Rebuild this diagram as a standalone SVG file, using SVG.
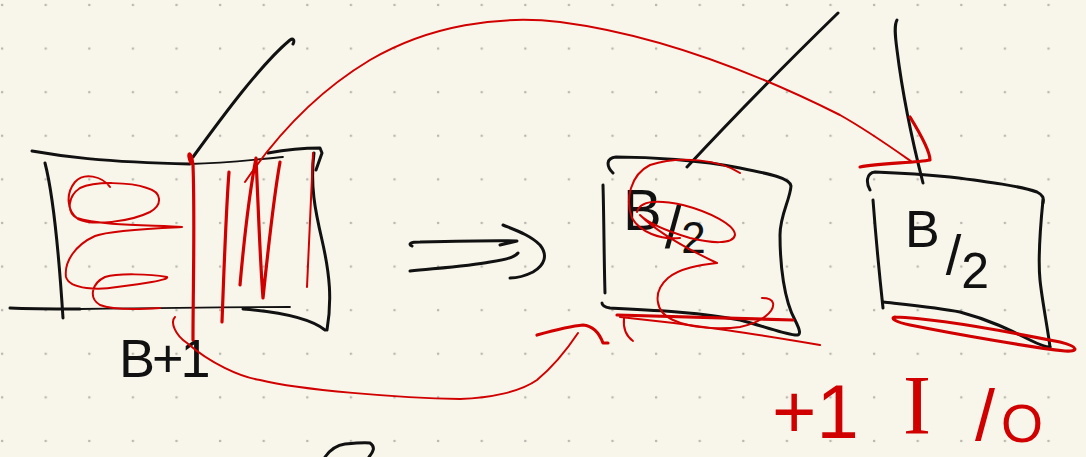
<svg xmlns="http://www.w3.org/2000/svg" width="1086" height="457" viewBox="0 0 1086 457">
<style>
.k{fill:none;stroke:#111;stroke-width:3;stroke-linecap:round;stroke-linejoin:round}
.kt{fill:none;stroke:#111;stroke-width:1.8;stroke-linecap:round}
.r{fill:none;stroke:#d10000;stroke-width:2;stroke-linecap:round;stroke-linejoin:round}
.rt{fill:none;stroke:#d10000;stroke-width:1.3;stroke-linecap:round;stroke-linejoin:round}
.rk{fill:none;stroke:#d10000;stroke-width:3.2;stroke-linecap:round;stroke-linejoin:round}
.tk{font-family:"Liberation Sans",Arial,sans-serif;fill:#111}
.tr{font-family:"Liberation Sans",Arial,sans-serif;fill:#d10000}
</style>
<defs>
<pattern id="dots" x="0" y="0" width="43.6" height="43.6" patternUnits="userSpaceOnUse">
<circle cx="2.1" cy="5" r="1.3" fill="#b9b8b0"/>
</pattern>
</defs>
<rect width="1086" height="457" fill="#f8f6ea"/>
<rect width="1086" height="457" fill="url(#dots)"/>

<g id="node-left">
<path class="k" d="M32,151 C60,156 100,162 190,164"/>
<path class="kt" d="M190,164 C230,163 260,159 283,157"/>
<path class="k" d="M268,153 C290,149 310,148 320,148 L322,153 L316,170"/>
<path class="k" d="M45,163 C52,190 58,240 63,318"/>
<path class="k" d="M314,153 C310,185 315,210 322,240 C330,275 332,300 327,330"/>
<path class="k" d="M10,308 C30,309 50,309 80,309"/>
<path class="kt" d="M80,309 C150,308 220,307 290,307"/>
<path class="k" d="M243,309 C280,312 310,318 325,330"/>
<path class="k" d="M193,157 C220,120 260,65 290,40 C293,38 295,40 293,44"/>
<text class="tk" x="119" y="377" font-size="54" letter-spacing="-3">B+1</text>
<path class="r" d="M110,187 C102,176 84,172 75,182 C66,193 66,210 78,219 C92,226 130,222 150,212 C163,205 162,192 147,188 C130,182 95,181 80,188 C68,196 66,212 77,218 C100,226 160,225 182,227 C160,228 110,230 95,236 C75,245 64,262 66,277 C70,290 100,290 117,287 C140,284 170,280 167,277 C150,274 118,273 105,277 C92,283 88,298 100,305 C115,311 145,309 160,308"/>
<path class="rk" d="M191,163 C186,152 191,149 193,165 C195,220 193,290 193,340"/>
<path class="rk" d="M222,322 C224,270 226,210 229,172"/>
<path class="rk" d="M240,285 C244,240 250,190 256,158 C258,200 260,260 263,298 C268,250 275,190 280,162"/>
<path class="r" d="M313,153 C311,200 309,250 307,287"/>
</g>

<g id="node-mid">
<path class="k" d="M613,173 C606,166 606,158 616,157 C650,157 700,160 740,168 C770,174 790,178 791,186 C790,200 780,215 780,235 C780,265 784,300 795,320 C800,330 802,336 795,335 C780,333 760,325 740,320 C700,312 650,310 610,308 C604,307 602,305 602,303"/>
<path class="k" d="M603,185 C604,220 604,260 605,293"/>
<path class="k" d="M687,167 C740,110 800,50 838,13"/>
<text class="tk" x="623" y="230" font-size="58">B<tspan dx="3" dy="18" font-size="60">/</tspan><tspan dy="5" font-size="44">2</tspan></text>
<path class="r" d="M740,173 C720,160 680,155 650,165 C630,175 625,200 632,218 C640,232 660,240 680,238 M637,212 C640,200 660,200 683,205 C710,212 735,225 735,235 C733,245 710,243 690,238 C670,232 650,225 640,215 C660,235 700,255 717,263 C700,265 680,268 668,278 C652,292 655,312 673,320 C690,328 720,330 740,327 C760,323 775,312 773,303 C772,299 766,298 762,298"/>
<path class="rk" d="M617,315 L793,320"/>
<path class="r" d="M620,317 C700,325 760,335 820,345"/>
</g>

<g id="node-right">
<path class="k" d="M870,190 C866,183 866,173 875,172 C900,173 930,175 950,177 C990,182 1020,186 1037,192 C1043,195 1044,198 1043,203"/>
<path class="k" d="M873,200 C876,240 880,280 883,308"/>
<path class="k" d="M1043,200 C1040,230 1038,260 1040,280 C1042,300 1048,330 1050,347"/>
<path class="k" d="M883,302 C910,305 940,308 960,312 C990,320 1010,330 1030,340 C1040,345 1048,347 1050,347"/>
<path class="k" d="M897,20 C894,25 895,35 897,50 C902,90 912,140 923,183"/>
<text class="tk" x="905" y="247" font-size="52">B<tspan dx="6" dy="27" font-size="56">/</tspan><tspan dy="14" font-size="50">2</tspan></text>
<path class="rk" d="M895,317 C930,318 1000,330 1060,342 C1080,347 1078,352 1065,351 C1030,347 960,335 910,325 C895,322 890,318 895,317"/>
</g>

<g id="label-io">
<text class="tr" font-size="76"><tspan x="772" y="438">+1</tspan> <tspan x="903" y="434" font-family="Liberation Serif" font-size="84">I</tspan><tspan x="975" y="440" font-size="72">/</tspan><tspan x="1001" y="442" font-size="54">O</tspan></text>
</g>

<g id="connectors">
<path class="k" d="M412,246 C408,244 410,242 420,242 C460,241 500,240 517,241 L500,245"/>
<path class="k" d="M410,271 C440,268 470,266 490,262 C505,260 515,257 518,253"/>
<path class="k" d="M503,225 C515,230 530,235 540,245 C548,255 545,265 533,272 C525,276 515,278 510,278"/>
<path class="r" d="M245,182 C280,130 320,90 370,60 C430,25 500,15 560,22 C660,35 760,75 840,115 C870,132 895,150 912,162"/>
<path class="rk" d="M910,117 C918,130 930,150 930,160 C915,163 880,163 860,167"/>
<path class="r" d="M175,317 C170,322 175,335 187,343 C210,363 240,377 260,380 C300,390 400,398 460,399 C490,398 520,392 537,380 C555,365 570,345 578,333"/>
<path class="rk" d="M537,335 C555,330 570,326 583,325 C595,326 600,335 603,343 L608,343"/>
<path class="r" d="M624,318 C623,328 626,336 633,341"/>
<path class="k" d="M325,457 C330,450 338,445 345,444 C355,443 365,442 370,443 C376,447 373,452 369,457"/>
</g>
</svg>
